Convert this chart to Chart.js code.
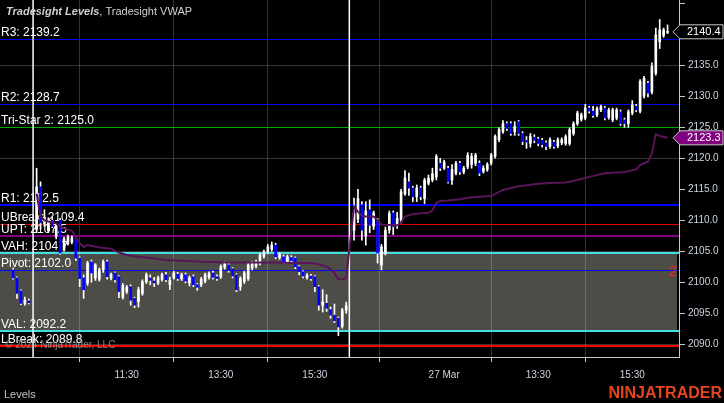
<!DOCTYPE html>
<html><head><meta charset="utf-8">
<script src="https://cdn.jsdelivr.net/npm/chart.js@4.4.1/dist/chart.umd.min.js"></script>
<style>html,body{margin:0;padding:0;background:#000;overflow:hidden}canvas{display:block}</style>
</head><body>
<canvas id="c" width="724" height="403"></canvas>
<script>
// ---------------- DATA ----------------
function range(a, b) { const r = []; for (let i = a; i <= b; i++) r.push(i); return r; }
// bar index (5-minute bars; 0 = first bar of 26 Mar session, 81 = first bar of 27 Mar session)
const barIdx = [...range(-6, -2), ...range(0, 79), ...range(81, 161)];
const barOpen = [
 2102.0,2100.7,2098.6,2096.6,2097.0,
 2108.5,2115.4,2109.5,2108.3,2110.0,2107.4,2110.0,2105.2,2106.3,2106.5,
 2107.1,2103.9,2100.7,2099.9,2103.3,2100.7,2100.5,2102.0,2103.3,2100.7,
 2101.5,2100.9,2097.6,2098.5,2099.3,2097.4,2096.9,2098.2,2100.1,2100.7,
 2100.2,2099.9,2100.5,2101.2,2099.6,2100.7,2101.3,2100.6,2101.2,2099.9,
 2100.9,2099.6,2099.6,2100.2,2100.8,2101.5,2100.9,2100.9,2102.4,2102.8,
 2102.2,2101.2,2099.3,2100.1,2100.6,2102.3,2102.6,2103.1,2104.2,2104.9,
 2105.3,2106.0,2104.0,2104.1,2103.3,2104.0,2103.9,2102.5,2101.7,2100.8,
 2101.0,2100.9,2099.3,2096.3,2096.6,2095.6,2094.7,2094.2,2092.9,2095.5,
 2108.4,2110.2,2112.5,2107.5,2111.7,2109.0,2110.0,2102.8,2104.7,2108.4,
 2111.2,2109.2,2110.0,2114.3,2116.2,2115.2,2113.8,2115.2,2113.5,2116.0,
 2116.5,2117.0,2119.2,2118.4,2118.4,2116.5,2117.6,2119.2,2117.8,2118.6,
 2119.0,2119.2,2119.2,2117.9,2118.2,2119.2,2120.3,2123.0,2124.3,2125.6,
 2125.6,2124.3,2125.9,2124.0,2122.9,2122.4,2123.4,2123.1,2122.9,2122.5,
 2121.9,2122.6,2122.0,2122.5,2122.4,2122.4,2124.0,2125.6,2126.3,2126.5,
 2128.1,2127.6,2127.0,2127.8,2128.1,2126.6,2126.2,2126.5,2127.5,2126.2,
 2125.6,2127.3,2128.4,2127.6,2130.0,2132.1,2130.7,2133.7,2138.8,2139.8,2140.3
];
const barHigh = [
 2102.3,2100.9,2098.8,2097.6,2097.3,
 2118.4,2116.2,2111.7,2110.4,2110.5,2109.2,2110.3,2107.3,2107.6,2107.5,
 2107.3,2104.1,2101.2,2103.4,2103.6,2103.0,2102.3,2103.6,2103.6,2101.5,
 2101.7,2101.1,2099.8,2099.5,2099.6,2097.6,2099.2,2100.4,2101.5,2101.2,
 2100.8,2101.0,2101.5,2101.6,2100.8,2101.8,2101.6,2101.5,2101.5,2101.0,
 2101.2,2099.8,2100.8,2101.5,2101.7,2101.8,2101.2,2102.8,2103.3,2103.1,
 2102.4,2101.4,2100.9,2101.8,2103.1,2103.4,2103.6,2104.7,2105.2,2106.1,
 2106.5,2106.3,2104.8,2104.4,2104.4,2104.3,2104.1,2102.7,2101.9,2101.4,
 2101.3,2101.1,2099.5,2098.8,2098.0,2096.0,2096.5,2094.4,2095.8,2096.8,
 2113.6,2115.0,2113.0,2113.0,2113.3,2111.5,2110.3,2106.1,2108.9,2111.5,
 2111.5,2111.3,2115.0,2118.0,2117.6,2115.5,2115.7,2115.5,2116.8,2117.3,
 2118.4,2120.6,2120.0,2119.7,2118.7,2119.0,2119.5,2119.5,2118.7,2120.9,
 2120.8,2120.8,2119.6,2118.8,2119.3,2120.8,2123.8,2124.9,2126.1,2125.9,
 2125.9,2125.9,2126.1,2124.3,2123.5,2124.0,2123.8,2123.4,2123.2,2122.8,
 2123.3,2122.9,2123.3,2123.3,2123.8,2124.9,2125.9,2127.6,2127.3,2128.7,
 2128.4,2128.4,2128.3,2128.6,2128.4,2128.1,2128.1,2128.1,2127.8,2126.5,
 2127.8,2129.3,2128.7,2132.7,2133.2,2132.4,2135.4,2141.0,2142.4,2141.0,2141.5
];
const barLow = [
 2100.5,2097.4,2096.4,2096.3,2096.5,
 2108.0,2108.6,2109.0,2108.0,2108.8,2107.0,2104.5,2105.0,2106.0,2106.2,
 2103.5,2099.3,2097.4,2099.5,2100.0,2100.3,2100.2,2101.6,2100.5,2100.4,
 2100.0,2097.5,2097.3,2098.2,2096.3,2095.9,2096.0,2097.9,2099.8,2099.6,
 2099.3,2099.6,2100.2,2100.1,2098.8,2100.5,2100.3,2100.3,2099.9,2099.4,
 2099.3,2098.7,2099.3,2099.9,2100.5,2100.5,2100.3,2100.6,2102.1,2101.6,
 2100.7,2098.5,2098.7,2099.8,2100.3,2102.0,2102.3,2102.8,2103.9,2104.6,
 2105.0,2103.8,2103.7,2103.0,2103.0,2103.2,2102.2,2101.2,2100.7,2100.5,
 2100.3,2098.5,2095.5,2095.2,2095.3,2094.2,2093.5,2091.4,2092.6,2095.0,
 2106.8,2109.6,2106.8,2106.0,2108.0,2108.5,2103.1,2102.0,2104.4,2107.9,
 2107.7,2108.7,2109.5,2114.0,2114.0,2113.0,2113.0,2113.3,2112.7,2115.7,
 2116.2,2116.5,2118.0,2118.2,2116.0,2115.8,2117.3,2117.4,2117.5,2118.3,
 2118.4,2118.8,2117.2,2117.6,2117.9,2118.9,2120.0,2122.7,2124.0,2124.5,
 2123.7,2123.7,2123.7,2122.2,2121.6,2121.8,2122.5,2122.0,2121.8,2121.4,
 2121.6,2121.6,2121.7,2122.2,2122.1,2122.1,2123.7,2125.3,2126.0,2126.2,
 2127.3,2126.6,2126.7,2127.5,2126.2,2126.3,2125.9,2126.2,2125.3,2125.0,
 2125.0,2127.0,2127.5,2127.3,2129.7,2129.9,2130.4,2133.4,2137.7,2139.5,2140.1
];
const barClose = [
 2100.7,2098.2,2096.6,2097.1,2096.7,
 2115.4,2109.6,2110.5,2110.0,2109.0,2109.0,2104.7,2107.0,2107.3,2107.2,
 2103.9,2100.6,2098.8,2103.1,2101.5,2102.8,2102.0,2103.3,2100.9,2101.2,
 2100.4,2098.5,2099.5,2099.2,2097.1,2096.3,2098.8,2100.1,2101.2,2100.3,
 2099.9,2100.7,2101.2,2100.4,2100.3,2101.5,2100.6,2101.2,2100.2,2100.7,
 2099.6,2099.2,2100.5,2101.2,2101.4,2100.8,2100.6,2102.5,2103.0,2101.9,
 2101.0,2098.8,2100.6,2101.5,2102.8,2103.1,2103.3,2104.4,2104.9,2105.7,
 2106.0,2104.1,2104.5,2103.3,2104.1,2103.5,2102.5,2101.7,2101.0,2101.1,
 2100.6,2099.3,2096.3,2096.8,2095.8,2094.7,2093.8,2092.8,2095.5,2096.2,
 2111.1,2113.5,2108.4,2111.5,2109.2,2111.2,2104.7,2105.7,2108.4,2111.1,
 2109.0,2110.3,2114.6,2116.8,2115.2,2113.8,2115.2,2113.8,2116.5,2116.8,
 2117.5,2120.3,2118.4,2119.4,2116.2,2118.2,2119.2,2117.8,2118.4,2120.5,
 2120.3,2120.5,2117.6,2118.4,2119.0,2120.5,2123.5,2124.6,2125.6,2124.8,
 2124.0,2125.1,2124.0,2122.7,2122.6,2123.5,2122.9,2122.4,2122.2,2121.9,
 2123.0,2121.9,2123.0,2123.0,2123.5,2124.6,2125.6,2127.3,2127.0,2128.1,
 2127.6,2126.9,2128.0,2128.3,2126.5,2127.8,2127.8,2127.8,2125.6,2125.6,
 2127.5,2128.6,2127.8,2132.4,2132.9,2130.5,2134.8,2139.9,2140.7,2140.7,2140.4
];
// Tradesight VWAP (bar index, value)
const vwapIdx = [0,1,2,3,4,5,6,7,8,9,10,11,12,13,16,19,21,23,25,29,33,42,49,60,65,70,72,74,75,76,77,78,79,
  81,82,83,84,86,87,88,92,93,94,96,100,101,102,103,105,108,111,116,119,123,128,131,135,138,141,145,150,153,154,156,157,158,159,161];
const vwapVal = [2114.3,2110.6,2110.0,2109.8,2109.7,2109.5,2109.0,2108.7,2108.5,2108.3,2107.3,2106.3,2105.7,2106.0,2105.6,2105.4,2104.8,2104.4,2104.2,2103.9,2103.6,2103.3,2103.2,2103.2,2103.1,2103.1,2102.9,2102.5,2102.1,2101.5,2100.5,2100.5,2100.7,
  2112.2,2111.4,2110.7,2110.6,2110.6,2110.0,2109.3,2109.2,2109.6,2110.6,2111.0,2111.2,2111.6,2112.8,2113.1,2113.2,2113.4,2113.7,2113.9,2114.9,2115.5,2115.9,2116.0,2116.1,2116.5,2117.0,2117.6,2117.8,2118.2,2118.9,2119.5,2120.8,2123.9,2123.6,2123.3];
// Tradesight Levels
const levelNames  = ['R3','R2','Tri-Star 2','R1','UBreak','UPT','VAH','Pivot','VAL','LBreak'];
const levelValues = [2139.2,2128.7,2125.0,2112.5,2109.4,2107.5,2104.7,2102.0,2092.2,2089.8];
const sessionBreaks = [-0.9, 79.8];
const xTickIdx = [23, 47, 71, 104, 128, 152];
const xTickLabels = ['11:30','13:30','15:30','27 Mar','13:30','15:30'];
const yTickValues = [2090,2095,2100,2105,2110,2115,2120,2125,2130,2135,2140,2145];
const yGridValues = [2090,2105,2120,2135];
const xRange = [-9.34, 163.92];
const yRange = [2087.95, 2145.53];

// ---------------- STYLE ----------------
const FONT = "'Liberation Sans', Arial, sans-serif";
const C = { bg:'#000000', va:'#4e4c46', grid:'rgba(255,255,255,0.2)', axis:'#c8c8c8', tick:'#cdd5e0',
  up:'#ffffff', down:'#0000ff', wick:'#ffffff', vwap:'#581558' };
const levelStyle = {
  'R3':{c:'#0000ee',w:1}, 'R2':{c:'#0000ee',w:1}, 'Tri-Star 2':{c:'#00a800',w:1}, 'R1':{c:'#0000ff',w:2},
  'UBreak':{c:'#e00000',w:1}, 'UPT':{c:'#800080',w:2}, 'VAH':{c:'#40e0e0',w:2}, 'Pivot':{c:'#0000ff',w:1},
  'VAL':{c:'#40e0e0',w:2}, 'LBreak':{c:'#ff0000',w:2}
};

function lv(name){ return levelValues[levelNames.indexOf(name)]; }

const overlay = {
  id: 'overlay',
  beforeDraw(chart) {
    const { ctx, chartArea: a, scales: { y } } = chart;
    ctx.save();
    ctx.fillStyle = C.bg; ctx.fillRect(0, 0, chart.width, chart.height);
    const yH = y.getPixelForValue(lv('VAH')), yL = y.getPixelForValue(lv('VAL'));
    ctx.fillStyle = C.va; ctx.fillRect(a.left, yH, a.right - 2 - a.left, yL - yH);
    ctx.restore();
  },
  beforeDatasetsDraw(chart) {
    const { ctx, chartArea: a, scales: { x, y } } = chart;
    ctx.save();
    levelNames.forEach((n, i) => {
      const st = levelStyle[n];
      let py = y.getPixelForValue(levelValues[i]);
      if (st.w % 2 === 1) py = Math.round(py) + 0.5; else py = Math.round(py);
      ctx.strokeStyle = st.c; ctx.lineWidth = st.w;
      ctx.beginPath(); ctx.moveTo(a.left, py); ctx.lineTo(a.right, py); ctx.stroke();
    });
    ctx.font = '12px ' + FONT; ctx.fillStyle = '#ffffff'; ctx.textBaseline = 'alphabetic'; ctx.textAlign = 'left';
    levelNames.forEach((n, i) => {
      const py = y.getPixelForValue(levelValues[i]);
      ctx.fillText(n + ': ' + levelValues[i].toFixed(1), 1, py - 3);
    });
    // pivot marker
    ctx.fillStyle = '#ff2020'; ctx.font = '14px ' + FONT; ctx.textAlign = 'right';
    ctx.fillText('2', a.right - 2, y.getPixelForValue(lv('Pivot')) + 6);
    // session breaks
    ctx.strokeStyle = '#ffffff'; ctx.lineWidth = 1.5;
    sessionBreaks.forEach(b => {
      const px = x.getPixelForValue(b);
      ctx.beginPath(); ctx.moveTo(px, a.top); ctx.lineTo(px, a.bottom); ctx.stroke();
    });
    ctx.restore();
  },
  afterDraw(chart) {
    const { ctx, chartArea: a, scales: { y } } = chart;
    ctx.save();
    function marker(val, fill) {
      const py = y.getPixelForValue(val), h = 14, tip = a.right - 6, bl = a.right + 1, br = chart.width - 1;
      ctx.beginPath();
      ctx.moveTo(tip, py); ctx.lineTo(bl, py - h / 2); ctx.lineTo(br, py - h / 2);
      ctx.lineTo(br, py + h / 2); ctx.lineTo(bl, py + h / 2); ctx.closePath();
      ctx.fillStyle = fill; ctx.fill();
      ctx.strokeStyle = '#c8c8c8'; ctx.lineWidth = 1; ctx.stroke();
      ctx.fillStyle = '#ffffff'; ctx.font = '11px ' + FONT; ctx.textAlign = 'left'; ctx.textBaseline = 'middle';
      ctx.fillText(val.toFixed(1), a.right + 8, py + 0.5);
    }
    marker(barClose[barClose.length - 1], '#000000');
    marker(vwapVal[vwapVal.length - 1], '#800080');
    // title
    ctx.textBaseline = 'alphabetic'; ctx.textAlign = 'left'; ctx.fillStyle = '#d0d0d0';
    ctx.font = 'italic bold 11px ' + FONT;
    const t1 = 'Tradesight Levels';
    ctx.fillText(t1, 6, 14.5);
    const w1 = ctx.measureText(t1).width;
    ctx.font = '11px ' + FONT;
    ctx.fillText(', Tradesight VWAP', 6 + w1, 14.5);
    // copyright
    ctx.fillStyle = 'rgba(160,160,160,0.8)'; ctx.font = '10px ' + FONT;
    ctx.fillText('\u00A9 2024 NinjaTrader, LLC', 5, 348);
    // footer
    ctx.fillStyle = '#c0c0c0'; ctx.font = '11px ' + FONT;
    ctx.fillText('Levels', 4, 398);
    ctx.fillStyle = '#e8451e'; ctx.font = 'bold 16px ' + FONT; ctx.textAlign = 'right';
    ctx.fillText('NINJATRADER', 722, 398);
    ctx.restore();
  }
};

const bodyData = barIdx.map((i, k) => ({ x: i, y: [barOpen[k], barClose[k]] }));
const wickData = barIdx.map((i, k) => ({ x: i, y: [barLow[k], barHigh[k]] }));
const vwapData = vwapIdx.map((i, k) => ({ x: i, y: vwapVal[k] }));

new Chart(document.getElementById('c'), {
  type: 'bar',
  data: {
    datasets: [
      { type: 'line', data: vwapData, borderColor: C.vwap, borderWidth: 2, pointRadius: 0, tension: 0, order: 0 },
      { type: 'bar', data: bodyData, grouped: false, barThickness: 2, minBarLength: 1, borderWidth: 0, order: 1,
        backgroundColor: (ctx) => { const r = ctx.raw; if (!r || !r.y) return C.up; return r.y[1] >= r.y[0] ? C.up : C.down; } },
      { type: 'bar', data: wickData, grouped: false, barThickness: 1, borderWidth: 0, order: 2, backgroundColor: C.wick }
    ]
  },
  options: {
    responsive: false, animation: false, devicePixelRatio: 1,
    layout: { padding: 0 },
    plugins: { legend: { display: false }, tooltip: { enabled: false } },
    scales: {
      x: {
        type: 'linear', min: xRange[0], max: xRange[1], offset: false,
        afterBuildTicks: (s) => { s.ticks = xTickIdx.map(v => ({ value: v })); },
        ticks: { callback: (v) => { const k = xTickIdx.indexOf(v); return k >= 0 ? xTickLabels[k] : ''; },
          color: C.tick, font: { family: FONT, size: 10 }, maxRotation: 0, autoSkip: false, padding: 7 },
        grid: { color: C.grid, tickColor: C.axis, tickLength: 5 },
        border: { color: C.axis, width: 1 },
        afterFit: (s) => { s.height = 46; s.paddingLeft = 0; s.paddingRight = 0; }
      },
      y: {
        type: 'linear', position: 'right', min: yRange[0], max: yRange[1],
        afterBuildTicks: (s) => { s.ticks = yTickValues.map(v => ({ value: v })); },
        ticks: { callback: (v) => v > 2140 ? '' : Number(v).toFixed(1), color: C.tick,
          font: { family: FONT, size: 10 }, padding: 3, autoSkip: false },
        grid: { color: (ctx) => (ctx.tick && yGridValues.includes(ctx.tick.value)) ? C.grid : 'rgba(0,0,0,0)',
          tickColor: C.axis, tickLength: 6 },
        border: { color: C.axis, width: 1 },
        afterFit: (s) => { s.width = 45; s.paddingTop = 0; s.paddingBottom = 0; }
      }
    }
  },
  plugins: [overlay]
});
</script>
</body></html>
